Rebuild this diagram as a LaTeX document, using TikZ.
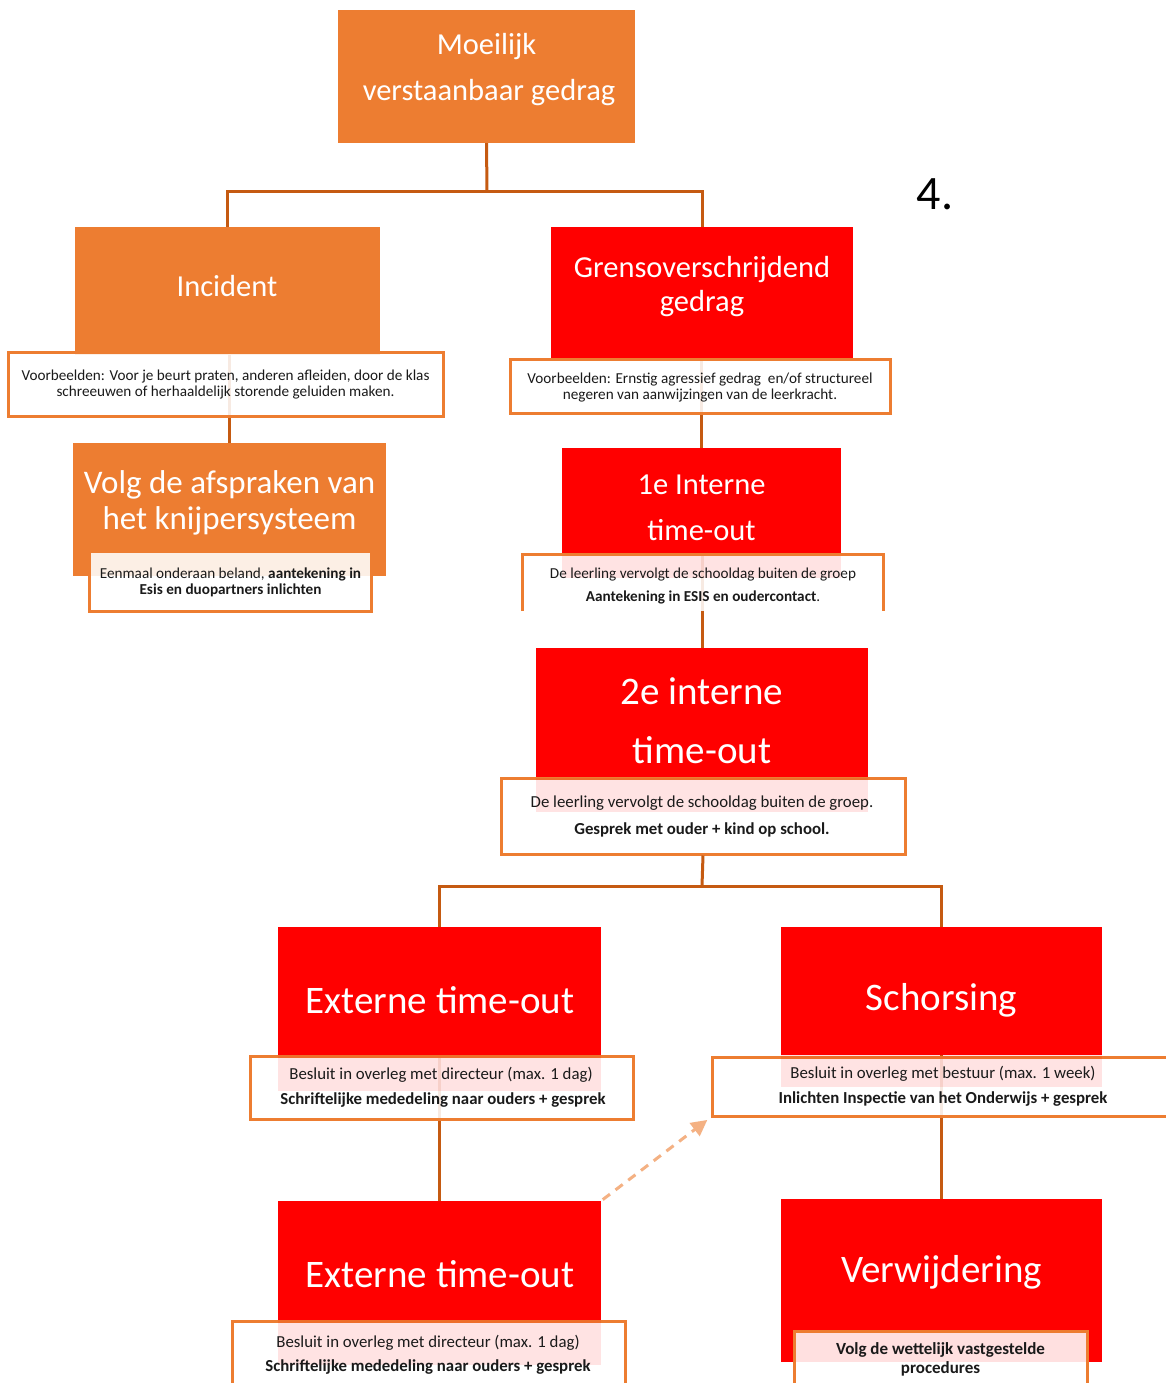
\documentclass[tikz,border=0pt]{standalone}
\usepackage{fontspec}
\setmainfont{Carlito}
\usetikzlibrary{arrows.meta}
\definecolor{orng}{HTML}{ED7D31}
\definecolor{redb}{HTML}{FF0000}
\definecolor{conn}{HTML}{C55A11}
\definecolor{dash}{HTML}{F4B183}
\definecolor{txt}{HTML}{1A1A1A}
\newcommand\fsz[1]{\fontsize{#1}{#1}\selectfont}
\tikzset{
  obox/.style={fill=orng, draw=none, inner sep=0},
  rbox/.style={fill=redb, draw=none, inner sep=0},
  subbox/.style={fill=white, fill opacity=0.88, draw=orng, draw opacity=1, line width=3pt, inner sep=0},
  subfill/.style={fill=white, fill opacity=0.88, draw=none, inner sep=0},
  subline/.style={draw=orng, line width=3pt},
  band/.style={fill=redb, fill opacity=0.11},
  cline/.style={draw=conn, line width=3pt},
  wt/.style={text=white, inner sep=0, yshift=-2.5pt},
  st/.style={text=txt, inner sep=0, yshift=-1.5pt},
}
\begin{document}
\begin{tikzpicture}[x=1pt,y=-1pt]
\useasboundingbox (0,0) rectangle (1166,1383);
\clip (0,0) rectangle (1166,1383);
\fill[white] (0,0) rectangle (1166,1383);

% main boxes
\node[obox, minimum width=297, minimum height=133] (top) at (486.5,76.5) {};
\node[obox, minimum width=305, minimum height=128] (inc) at (227.5,291) {};
\node[obox, minimum width=313, minimum height=133] (volg) at (229.5,509.5) {};
\node[rbox, minimum width=302, minimum height=131] (grens) at (702,292.5) {};
\node[rbox, minimum width=279, minimum height=108] (int1) at (701.5,502) {};
\node[rbox, minimum width=332, minimum height=130] (int2) at (702,713) {};
\node[rbox, minimum width=323, minimum height=128] (ext1) at (439.5,991) {};
\node[rbox, minimum width=321, minimum height=128] (sch) at (941.5,991) {};
\node[rbox, minimum width=323, minimum height=119] (ext2) at (439.5,1260.5) {};
\node[rbox, minimum width=321, minimum height=163] (ver) at (941.5,1280.5) {};

% connectors running behind the sub boxes
\draw[cline] (volg.north |- inc.south) -- (volg.north);
\draw[cline] (int1.north |- grens.south) -- (int1.north);
\draw[cline] (int2.north |- int1.south) -- (int2.north);
\draw[cline] (ext1.south) -- (ext2.north);
\draw[cline] (sch.south) -- (ver.north);

% sub boxes
\node[subbox, minimum width=435, minimum height=64] (incex) at (225.5,384) {};
\node[subfill, minimum width=281, minimum height=58] (volgsub) at (230.5,582) {};
\draw[subline] (volgsub.north west) -- (volgsub.south west) -- (volgsub.south east) -- (volgsub.north east);
\node[subbox, minimum width=380, minimum height=54] (grensex) at (700,386) {};
\node[subfill, minimum width=360, minimum height=56] (int1sub) at (703,583) {};
\draw[subline] (int1sub.south west) -- (int1sub.north west) -- (int1sub.north east) -- (int1sub.south east);
\node[subbox, minimum width=404, minimum height=76] (int2sub) at (703,816) {};
\node[subbox, minimum width=383, minimum height=63] (ext1sub) at (441.5,1087.5) {};
\node[subbox, minimum width=456, minimum height=59] (schsub) at (940,1086.5) {};
\node[subbox, minimum width=393, minimum height=69] (ext2sub) at (428.5,1355.5) {};
\node[subbox, minimum width=293, minimum height=59] (versub) at (940.5,1360.5) {};

% light bands below the red boxes
\fill[band] (int1.south west) rectangle (int1.south east |- 0,578);
\fill[band] (int2.south west) rectangle (int2.south east |- 0,812);
\fill[band] (ext1.south west) rectangle (ext1.south east |- 0,1091);
\fill[band] (sch.south west) rectangle (sch.south east |- 0,1087);
\fill[band] (ext2.south west) rectangle (ext2.south east |- 0,1365);

% connectors between tiers
\coordinate (j1) at (487,192);
\coordinate (j2) at (702,886);
\draw[cline] (top.south) -- (j1);
\draw[cline] (inc.north) |- (j1) -| (grens.north);
\draw[cline] (int2sub.south) -- (j2);
\draw[cline] (ext1.north) |- (j2) -| (sch.north);
\draw[draw=dash, line width=3pt, dash pattern=on 9pt off 7pt, -{Triangle[length=16pt,width=16pt]}, shorten <=2pt, shorten >=4pt]
  (ext2.north east) -- (schsub.south west);

% texts
\node[wt, font=\fsz{30.5}] (t1) at (486.5,44) {Moeilijk};
\node[wt, font=\fsz{30.5}] (t2) at (489,90) {verstaanbaar gedrag};
\node[inner sep=0, font=\fsz{48}, yshift=-1pt] (t3) at (935,193) {4.};
\node[wt, font=\fsz{30.5}] (t4) at (227,284) {Incident};
\node[st, font=\fsz{15.2}] (t5) at (225.5,375) {Voorbeelden: Voor je beurt praten, anderen afleiden, door de klas};
\node[st, font=\fsz{15.2}] (t6) at (225.5,391) {schreeuwen of herhaaldelijk storende geluiden maken.};
\node[wt, font=\fsz{33}] (t7) at (229.5,482) {Volg de afspraken van};
\node[wt, font=\fsz{33}] (t8) at (229.5,518) {het knijpersysteem};
\node[st, font=\fsz{15.2}] (t9) at (230.5,573) {Eenmaal onderaan beland, \textbf{aantekening in}};
\node[st, font=\fsz{15.2}\bfseries] (t10) at (230.5,589) {Esis en duopartners inlichten};
\node[wt, font=\fsz{30.5}] (t11) at (702,267) {Grensoverschrijdend};
\node[wt, font=\fsz{30.5}] (t12) at (702,301) {gedrag};
\node[st, font=\fsz{15.2}] (t13) at (700,378) {Voorbeelden: Ernstig agressief gedrag\ \ en/of structureel};
\node[st, font=\fsz{15.2}] (t14) at (700,394) {negeren van aanwijzingen van de leerkracht.};
\node[wt, font=\fsz{30.5}] (t15) at (701.5,482) {1e Interne};
\node[wt, font=\fsz{30.5}] (t16) at (701.5,528) {time-out};
\node[st, font=\fsz{15.2}] (t17) at (703,573) {De leerling vervolgt de schooldag buiten de groep};
\node[st, font=\fsz{15.2}] (t18) at (703,596) {\textbf{Aantekening in ESIS en oudercontact}.};
\node[wt, font=\fsz{39}] (t19) at (702,689) {2e interne};
\node[wt, font=\fsz{39}] (t20) at (702,748) {time-out};
\node[st, font=\fsz{16.8}] (t21) at (702,802) {De leerling vervolgt de schooldag buiten de groep.};
\node[st, font=\fsz{16.8}\bfseries] (t22) at (702,828) {Gesprek met ouder + kind op school.};
\node[wt, font=\fsz{39}] (t23) at (440,998) {Externe time-out};
\node[st, font=\fsz{16.8}] (t24) at (441,1073) {Besluit in overleg met directeur (max. 1 dag)};
\node[st, font=\fsz{16.8}\bfseries] (t25) at (443,1099) {Schriftelijke mededeling naar ouders + gesprek};
\node[wt, font=\fsz{39}] (t26) at (941.5,998) {Schorsing};
\node[st, font=\fsz{16.8}] (t27) at (943,1072) {Besluit in overleg met bestuur (max. 1 week)};
\node[st, font=\fsz{16.8}\bfseries] (t28) at (943,1098) {Inlichten Inspectie van het Onderwijs + gesprek};
\node[wt, font=\fsz{39}] (t29) at (440,1272) {Externe time-out};
\node[st, font=\fsz{16.8}] (t30) at (428,1341) {Besluit in overleg met directeur (max. 1 dag)};
\node[st, font=\fsz{16.8}\bfseries] (t31) at (428,1366) {Schriftelijke mededeling naar ouders + gesprek};
\node[wt, font=\fsz{39}] (t32) at (941.5,1270) {Verwijdering};
\node[st, font=\fsz{17}\bfseries] (t33) at (940.5,1348) {Volg de wettelijk vastgestelde};
\node[st, font=\fsz{17}\bfseries] (t34) at (940.5,1367) {procedures};
\end{tikzpicture}
\end{document}
